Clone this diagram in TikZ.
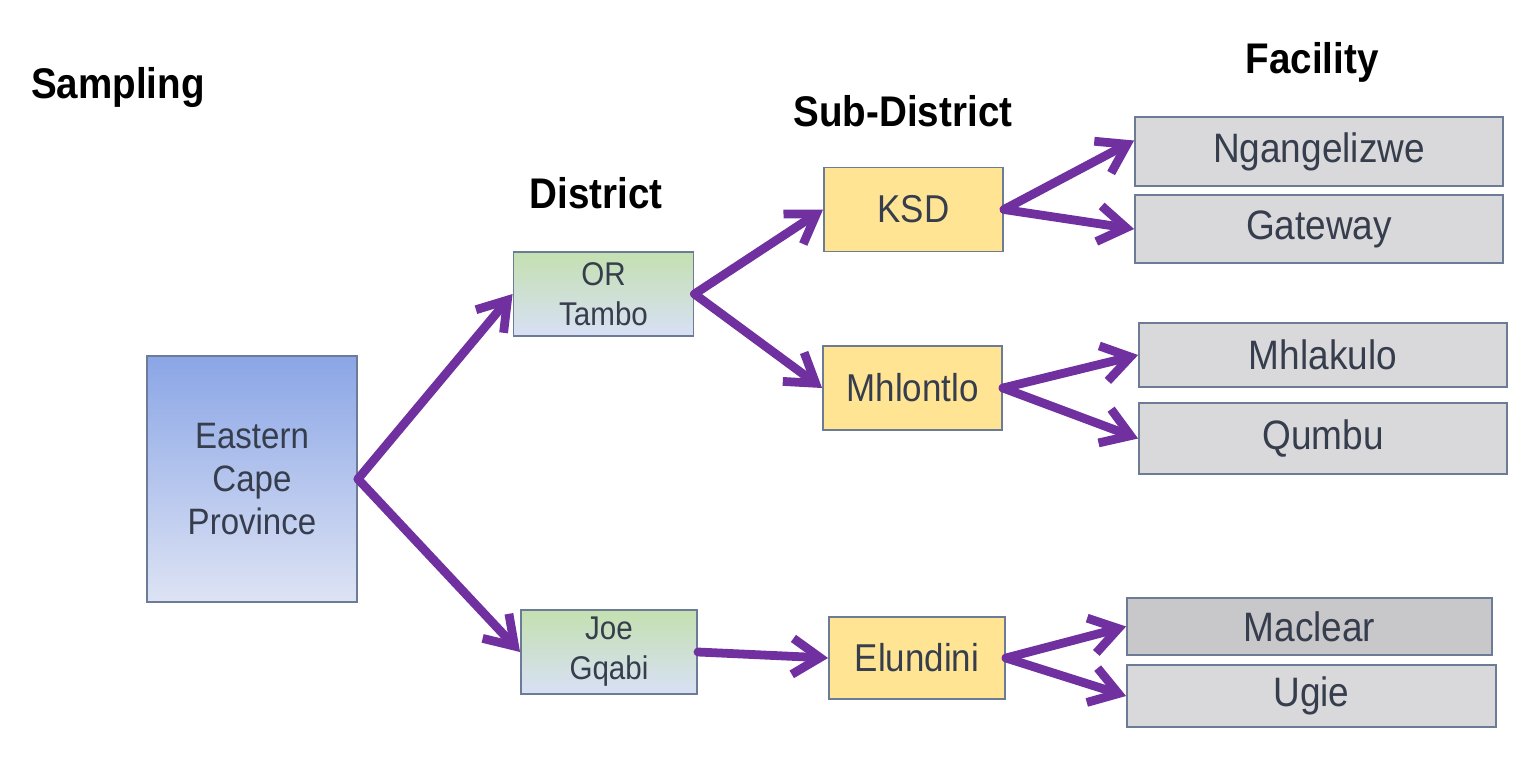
\documentclass[tikz,border=0pt]{standalone}
\usepackage{fontspec}
\setmainfont[FakeStretch=0.9]{Liberation Sans}
\usetikzlibrary{arrows.meta}
\definecolor{provtop}{HTML}{8BA6E6}
\definecolor{provbot}{HTML}{DDE3F4}
\definecolor{distgreen}{HTML}{C4E0B0}
\definecolor{distblue}{HTML}{B6C8EE}
\definecolor{distlight}{HTML}{D8E0F6}
\definecolor{subfill}{HTML}{FFE494}
\definecolor{facfill}{HTML}{D9D9DB}
\definecolor{macfill}{HTML}{C8C8CA}
\definecolor{boxline}{HTML}{6C7B96}
\definecolor{boxtext}{HTML}{363D4C}
\definecolor{arrowpurple}{HTML}{7030A0}
\tikzset{
    title/.style={font=\fontsize{24.4}{28}\selectfont\bfseries, text=black},
    box/.style={draw=boxline, line width=1.1pt, text=boxtext, align=center, inner sep=0pt},
    province/.style={box, minimum width=4.2cm, minimum height=4.92cm,
        top color=provtop, bottom color=provbot,
        font=\fontsize{20.9}{24.5}\selectfont},
    district/.style={box, minimum width=3.6cm, minimum height=1.68cm,
        top color=distgreen, middle color=distblue, bottom color=distlight,
        font=\fontsize{18.7}{22.8}\selectfont},
    subdistrict/.style={box, minimum width=3.58cm, minimum height=1.68cm,
        fill=subfill, font=\fontsize{22.1}{26}\selectfont},
    facility/.style={box, minimum width=7.36cm, minimum height=1.36cm,
        fill=facfill, font=\fontsize{23.4}{27}\selectfont},
    link/.style={draw=arrowpurple, line width=5pt, line cap=round, line join=round,
        -{Straight Barb[length=0.55cm, width=0.72cm]}}
}
\begin{document}
\begin{tikzpicture}[
        x=0.02cm,
        y=-0.02cm]
\useasboundingbox (0,0) rectangle (1528,758);
\node[title] (sampling) at (118,88) {Sampling};
\node[title] (districttitle) at (596,193) {District};
\node[title] (subtitle) at (903,111) {Sub-District};
\node[title] (facilitytitle) at (1312,62) {Facility};
\node[province] (eastcape) at (252,479) {Eastern\\Cape\\Province};
\node[district] (ortambo) at (603.5,294) {OR\\Tambo};
\node[district, minimum width=3.52cm] (joegqabi) at (609,652) {Joe\\Gqabi};
\node[subdistrict] (ksd) at (913.5,209.5) {KSD};
\node[subdistrict] (mhlontlo) at (912.5,388) {Mhlontlo};
\node[subdistrict, minimum width=3.52cm, minimum height=1.64cm] (elundini) at (917,658) {Elundini};
\node[facility, minimum height=1.38cm] (ngangelizwe) at (1319,151.5) {Ngangelizwe};
\node[facility] (gateway) at (1319,229) {Gateway};
\node[facility, minimum height=1.28cm] (mhlakulo) at (1323,355) {Mhlakulo};
\node[facility, minimum height=1.42cm] (qumbu) at (1323,438.5) {Qumbu};
\node[facility, fill=macfill, minimum width=7.3cm, minimum height=1.14cm] (maclear) at (1309.5,626.5) {Maclear};
\node[facility, minimum width=7.38cm, minimum height=1.24cm] (ugie) at (1311.5,696) {Ugie};
\foreach \From/\To in {eastcape/ortambo, eastcape/joegqabi, ortambo/ksd, ortambo/mhlontlo,
        joegqabi/elundini, ksd/gateway, mhlontlo/mhlakulo, mhlontlo/qumbu,
        elundini/maclear, elundini/ugie}{
    \draw[link] (\From.east) -- (\To.west);
}
\draw[link] (ksd.east) -- ([yshift=0.22cm]ngangelizwe.west);
\end{tikzpicture}
\end{document}
